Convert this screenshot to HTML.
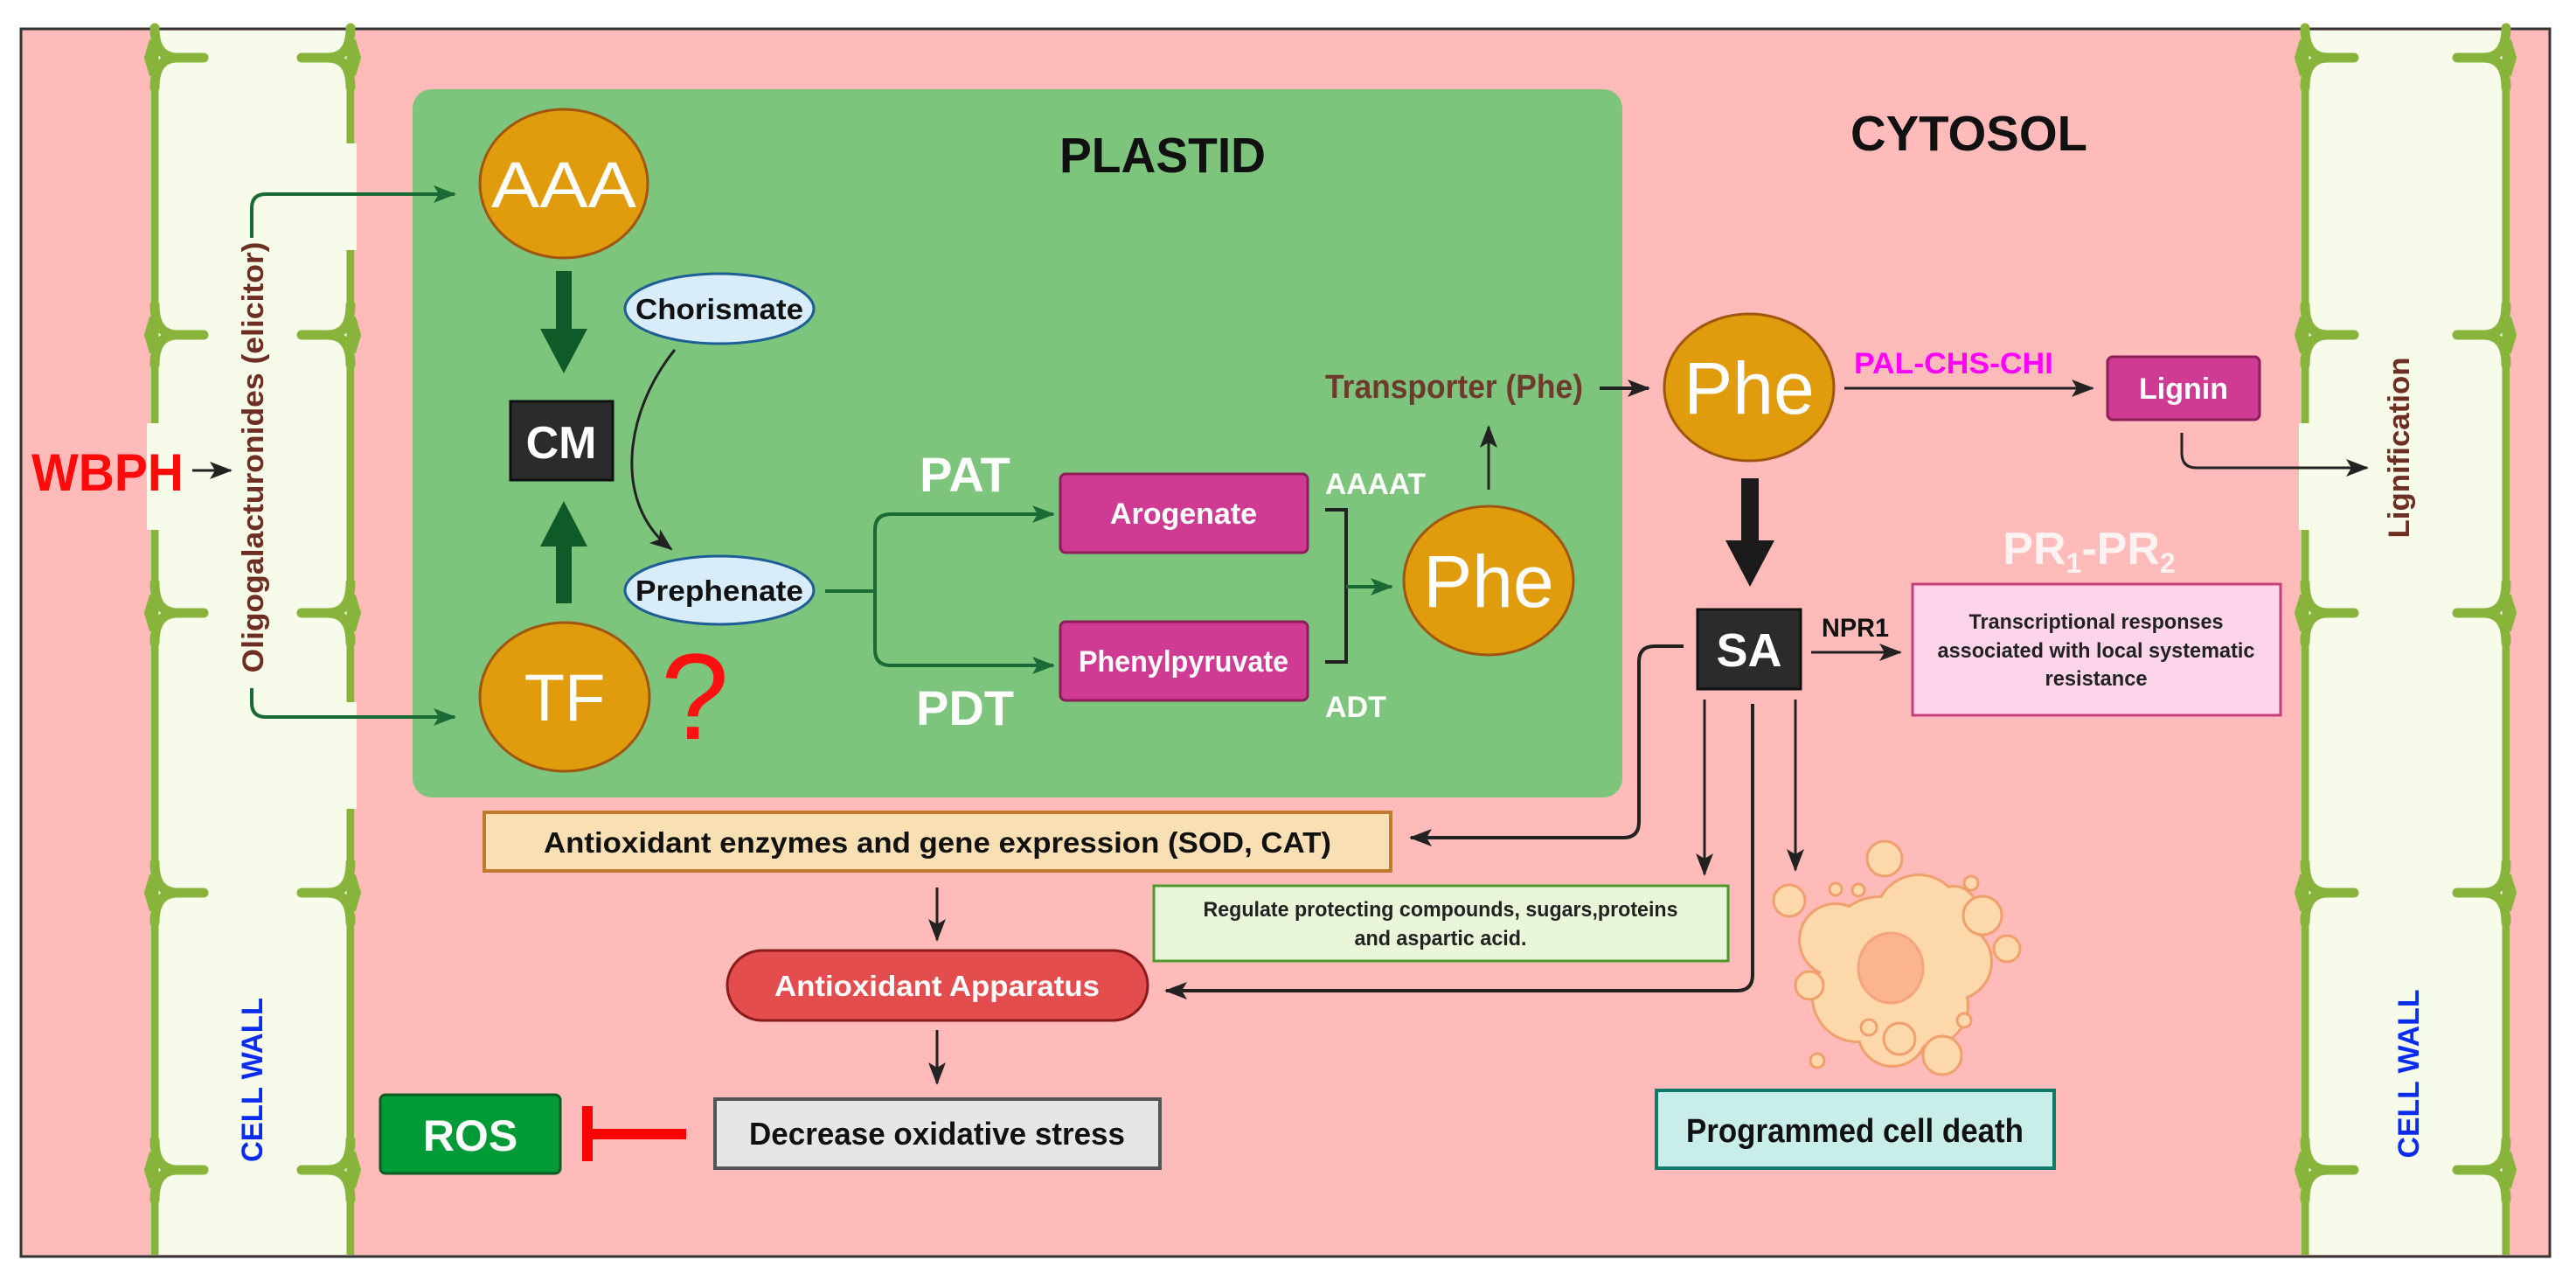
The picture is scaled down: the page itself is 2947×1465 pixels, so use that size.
<!DOCTYPE html>
<html><head><meta charset="utf-8"><style>
html,body{margin:0;padding:0;background:#fff;}
svg{display:block;font-family:"Liberation Sans",Arial,sans-serif;}
</style></head><body>
<svg width="2947" height="1465" viewBox="0 0 2947 1465" xmlns="http://www.w3.org/2000/svg">
<defs>
<marker id="ab" markerWidth="30" markerHeight="30" refX="24" refY="12" orient="auto" markerUnits="userSpaceOnUse"><path d="M0,2 L26,12 L0,22 L6,12 z" fill="#222"/></marker>
<marker id="ag" markerWidth="30" markerHeight="30" refX="24" refY="12" orient="auto" markerUnits="userSpaceOnUse"><path d="M0,2 L26,12 L0,22 L6,12 z" fill="#1a6a35"/></marker>
<g id="notch"><path d="M0,-34 Q0,0 26,0 L56,0 M0,34 Q0,0 26,0" fill="none" stroke="#89b43c" stroke-width="11" stroke-linecap="round"/><path d="M-2,-20 L-8,0 L-2,20" fill="none" stroke="#89b43c" stroke-width="8"/></g>
</defs>
<rect x="0" y="0" width="2947" height="1465" fill="#fff"/>
<rect x="24" y="33" width="2893" height="1404" fill="#ffbaba" stroke="#333" stroke-width="3"/>

<!-- left wall -->
<rect x="172" y="35" width="234" height="1400" fill="#f6fce9"/>
<line x1="177" y1="35" x2="177" y2="1435" stroke="#89b43c" stroke-width="9"/>
<line x1="401" y1="35" x2="401" y2="1435" stroke="#89b43c" stroke-width="9"/>
<g>
<use href="#notch" x="177" y="66"/><use href="#notch" x="177" y="383"/><use href="#notch" x="177" y="701"/><use href="#notch" x="177" y="1021"/><use href="#notch" x="177" y="1338"/>
<use href="#notch" transform="translate(401,66) scale(-1,1)"/><use href="#notch" transform="translate(401,383) scale(-1,1)"/><use href="#notch" transform="translate(401,701) scale(-1,1)"/><use href="#notch" transform="translate(401,1021) scale(-1,1)"/><use href="#notch" transform="translate(401,1338) scale(-1,1)"/>
</g>
<rect x="168" y="484" width="20" height="122" fill="#f6fce9"/>
<rect x="392" y="164" width="16" height="122" fill="#f6fce9"/>
<rect x="392" y="803" width="16" height="122" fill="#f6fce9"/>

<!-- right wall -->
<rect x="2632" y="35" width="240" height="1400" fill="#f6fce9"/>
<line x1="2637" y1="35" x2="2637" y2="1435" stroke="#89b43c" stroke-width="9"/>
<line x1="2867" y1="35" x2="2867" y2="1435" stroke="#89b43c" stroke-width="9"/>
<use href="#notch" x="2637" y="66"/><use href="#notch" x="2637" y="383"/><use href="#notch" x="2637" y="701"/><use href="#notch" x="2637" y="1021"/><use href="#notch" x="2637" y="1338"/>
<use href="#notch" transform="translate(2867,66) scale(-1,1)"/><use href="#notch" transform="translate(2867,383) scale(-1,1)"/><use href="#notch" transform="translate(2867,701) scale(-1,1)"/><use href="#notch" transform="translate(2867,1021) scale(-1,1)"/><use href="#notch" transform="translate(2867,1338) scale(-1,1)"/>
<rect x="2630" y="484" width="18" height="122" fill="#f6fce9"/>

<text x="0" y="0" transform="translate(300,1235) rotate(-90)" text-anchor="middle" font-size="34" font-weight="bold" fill="#0a2cf0" textLength="188" lengthAdjust="spacingAndGlyphs">CELL WALL</text>
<text x="0" y="0" transform="translate(2767,1228) rotate(-90)" text-anchor="middle" font-size="34" font-weight="bold" fill="#0a2cf0" textLength="193" lengthAdjust="spacingAndGlyphs">CELL WALL</text>
<text x="0" y="0" transform="translate(2756,512) rotate(-90)" text-anchor="middle" font-size="34" font-weight="bold" fill="#6e2e22" textLength="207" lengthAdjust="spacingAndGlyphs">Lignification</text>
<text x="0" y="0" transform="translate(301,523) rotate(-90)" text-anchor="middle" font-size="34" font-weight="bold" fill="#6e2e22" textLength="493" lengthAdjust="spacingAndGlyphs">Oligogalacturonides (elicitor)</text>

<!-- WBPH -->
<text x="36" y="561" font-size="60" font-weight="bold" fill="#ff0a0a" textLength="174" lengthAdjust="spacingAndGlyphs">WBPH</text>
<line x1="220" y1="538" x2="264" y2="538" stroke="#222" stroke-width="3" marker-end="url(#ab)"/>

<!-- plastid -->
<rect x="472" y="102" width="1384" height="810" rx="22" fill="#7dc47d"/>
<text x="1212" y="197" font-size="57" font-weight="bold" fill="#111" textLength="236" lengthAdjust="spacingAndGlyphs">PLASTID</text>

<!-- elicitor connectors -->
<path d="M288,272 L288,238 Q288,222 304,222 L520,222" fill="none" stroke="#1a6a35" stroke-width="4" marker-end="url(#ag)"/>
<path d="M288,787 L288,804 Q288,820 304,820 L520,820" fill="none" stroke="#1a6a35" stroke-width="4" marker-end="url(#ag)"/>

<!-- AAA -->
<ellipse cx="645" cy="210" rx="96" ry="85" fill="#e09c0d" stroke="#a0560f" stroke-width="3"/>
<text x="645" y="237" text-anchor="middle" font-size="74" fill="#fff" textLength="166" lengthAdjust="spacingAndGlyphs">AAA</text>
<path d="M636,310 L654,310 L654,376 L672,376 L645,427 L618,376 L636,376 z" fill="#0e5a28"/>
<path d="M636,690 L654,690 L654,625 L672,625 L645,573 L618,625 L636,625 z" fill="#0e5a28"/>
<rect x="584" y="459" width="117" height="90" fill="#2b2b2b" stroke="#111" stroke-width="3"/>
<text x="642" y="524" text-anchor="middle" font-size="52" font-weight="bold" fill="#fff">CM</text>
<ellipse cx="646" cy="797" rx="97" ry="85" fill="#e09c0d" stroke="#a0560f" stroke-width="3"/>
<text x="646" y="824" text-anchor="middle" font-size="76" fill="#fff">TF</text>
<text x="795" y="845" text-anchor="middle" font-size="140" fill="#ff1010">?</text>

<!-- chorismate / prephenate -->
<ellipse cx="823" cy="353" rx="108" ry="40" fill="#d8ecfa" stroke="#1d5e96" stroke-width="3"/>
<text x="823" y="365" text-anchor="middle" font-size="33" font-weight="bold" fill="#111" textLength="192" lengthAdjust="spacingAndGlyphs">Chorismate</text>
<ellipse cx="823" cy="675" rx="108" ry="39" fill="#d8ecfa" stroke="#1d5e96" stroke-width="3"/>
<text x="823" y="687" text-anchor="middle" font-size="33" font-weight="bold" fill="#111" textLength="192" lengthAdjust="spacingAndGlyphs">Prephenate</text>
<path d="M772,400 C715,470 700,575 768,628" fill="none" stroke="#222" stroke-width="3" marker-end="url(#ab)"/>

<!-- branch -->
<path d="M944,676 L1001,676" fill="none" stroke="#1a6a35" stroke-width="4"/>
<path d="M1001,676 L1001,606 Q1001,588 1019,588 L1205,588" fill="none" stroke="#1a6a35" stroke-width="4" marker-end="url(#ag)"/>
<path d="M1001,676 L1001,743 Q1001,761 1019,761 L1205,761" fill="none" stroke="#1a6a35" stroke-width="4" marker-end="url(#ag)"/>
<text x="1104" y="562" text-anchor="middle" font-size="56" font-weight="bold" fill="#fff">PAT</text>
<text x="1104" y="829" text-anchor="middle" font-size="56" font-weight="bold" fill="#fff">PDT</text>

<rect x="1213" y="542" width="283" height="90" rx="6" fill="#cf3a93" stroke="#8e1d5a" stroke-width="3"/>
<text x="1354" y="599" text-anchor="middle" font-size="34" font-weight="bold" fill="#fff">Arogenate</text>
<rect x="1213" y="711" width="283" height="90" rx="6" fill="#cf3a93" stroke="#8e1d5a" stroke-width="3"/>
<text x="1354" y="768" text-anchor="middle" font-size="34" font-weight="bold" fill="#fff" textLength="240" lengthAdjust="spacingAndGlyphs">Phenylpyruvate</text>

<text x="1516" y="565" font-size="34" font-weight="bold" fill="#fff" textLength="115" lengthAdjust="spacingAndGlyphs">AAAAT</text>
<text x="1516" y="820" font-size="34" font-weight="bold" fill="#fff">ADT</text>
<path d="M1516,583 L1540,583 L1540,757 L1516,757" fill="none" stroke="#222" stroke-width="4"/>
<line x1="1540" y1="671" x2="1592" y2="671" stroke="#1a6a35" stroke-width="4" marker-end="url(#ag)"/>

<ellipse cx="1703" cy="664" rx="97" ry="85" fill="#e09c0d" stroke="#a0560f" stroke-width="3"/>
<text x="1703" y="694" text-anchor="middle" font-size="84" fill="#fff">Phe</text>
<line x1="1703" y1="560" x2="1703" y2="488" stroke="#222" stroke-width="3" marker-end="url(#ab)"/>
<text x="1516" y="455" font-size="38" font-weight="bold" fill="#6e3a2e" textLength="295" lengthAdjust="spacingAndGlyphs">Transporter (Phe)</text>
<line x1="1830" y1="444" x2="1886" y2="444" stroke="#222" stroke-width="4" marker-end="url(#ab)"/>

<text x="2117" y="172" font-size="57" font-weight="bold" fill="#111" textLength="271" lengthAdjust="spacingAndGlyphs">CYTOSOL</text>

<ellipse cx="2001" cy="443" rx="97" ry="84" fill="#e09c0d" stroke="#a0560f" stroke-width="3"/>
<text x="2001" y="473" text-anchor="middle" font-size="84" fill="#fff">Phe</text>
<text x="2121" y="427" font-size="34" font-weight="bold" fill="#ff00ff" textLength="228" lengthAdjust="spacingAndGlyphs">PAL-CHS-CHI</text>
<line x1="2110" y1="444" x2="2394" y2="444" stroke="#222" stroke-width="3" marker-end="url(#ab)"/>
<rect x="2411" y="408" width="174" height="72" rx="6" fill="#cf3a93" stroke="#8e1d5a" stroke-width="3"/>
<text x="2498" y="456" text-anchor="middle" font-size="34" font-weight="bold" fill="#fff">Lignin</text>
<path d="M2496,495 L2496,518 Q2496,535 2513,535 L2708,535" fill="none" stroke="#222" stroke-width="3" marker-end="url(#ab)"/>

<path d="M1992,547 L2012,547 L2012,618 L2030,618 L2002,671 L1974,618 L1992,618 z" fill="#1a1a1a"/>

<text x="2390" y="645" text-anchor="middle" font-size="52" font-weight="bold" fill="#fff2f2">PR<tspan font-size="32" dy="10">1</tspan><tspan dy="-10">-PR</tspan><tspan font-size="32" dy="10">2</tspan></text>

<rect x="1942" y="697" width="118" height="91" fill="#2b2b2b" stroke="#111" stroke-width="3"/>
<text x="2001" y="762" text-anchor="middle" font-size="54" font-weight="bold" fill="#fff">SA</text>
<text x="2084" y="728" font-size="30" font-weight="bold" fill="#111" textLength="77" lengthAdjust="spacingAndGlyphs">NPR1</text>
<line x1="2072" y1="746" x2="2174" y2="746" stroke="#222" stroke-width="3" marker-end="url(#ab)"/>
<rect x="2188" y="668" width="421" height="150" fill="#fdd5ea" stroke="#c4407a" stroke-width="3"/>
<text x="2398" y="719" text-anchor="middle" font-size="24" font-weight="bold" fill="#222" textLength="291" lengthAdjust="spacingAndGlyphs">Transcriptional responses</text>
<text x="2398" y="752" text-anchor="middle" font-size="24" font-weight="bold" fill="#222" textLength="363" lengthAdjust="spacingAndGlyphs">associated with local systematic</text>
<text x="2398" y="784" text-anchor="middle" font-size="24" font-weight="bold" fill="#222" textLength="117" lengthAdjust="spacingAndGlyphs">resistance</text>

<path d="M1926,739 L1893,739 Q1875,739 1875,757 L1875,940 Q1875,958 1857,958 L1614,958" fill="none" stroke="#222" stroke-width="4" marker-end="url(#ab)"/>
<line x1="1950" y1="800" x2="1950" y2="1000" stroke="#222" stroke-width="3" marker-end="url(#ab)"/>
<line x1="2054" y1="800" x2="2054" y2="995" stroke="#222" stroke-width="3" marker-end="url(#ab)"/>
<path d="M2005,805 L2005,1115 Q2005,1133 1987,1133 L1334,1133" fill="none" stroke="#222" stroke-width="4" marker-end="url(#ab)"/>

<rect x="554" y="929" width="1037" height="67" fill="#f8e0b4" stroke="#c07a2e" stroke-width="4"/>
<text x="622" y="975" font-size="33" font-weight="bold" fill="#111" textLength="901" lengthAdjust="spacingAndGlyphs">Antioxidant enzymes and gene expression (SOD, CAT)</text>
<line x1="1072" y1="1015" x2="1072" y2="1075" stroke="#222" stroke-width="3" marker-end="url(#ab)"/>

<rect x="1320" y="1013" width="657" height="86" fill="#eaf6da" stroke="#4f9a2f" stroke-width="3"/>
<text x="1648" y="1048" text-anchor="middle" font-size="24" font-weight="bold" fill="#222" textLength="543" lengthAdjust="spacingAndGlyphs">Regulate protecting compounds, sugars,proteins</text>
<text x="1648" y="1081" text-anchor="middle" font-size="24" font-weight="bold" fill="#222" textLength="197" lengthAdjust="spacingAndGlyphs">and aspartic acid.</text>

<rect x="832" y="1087" width="481" height="80" rx="40" fill="#e44d4d" stroke="#8b1a1a" stroke-width="3"/>
<text x="1072" y="1139" text-anchor="middle" font-size="33" font-weight="bold" fill="#fff" textLength="372" lengthAdjust="spacingAndGlyphs">Antioxidant Apparatus</text>
<line x1="1072" y1="1178" x2="1072" y2="1239" stroke="#222" stroke-width="3" marker-end="url(#ab)"/>

<rect x="818" y="1257" width="509" height="79" fill="#e6e6e6" stroke="#555" stroke-width="4"/>
<text x="1072" y="1309" text-anchor="middle" font-size="36" font-weight="bold" fill="#111" textLength="430" lengthAdjust="spacingAndGlyphs">Decrease oxidative stress</text>

<rect x="435" y="1252" width="206" height="90" rx="6" fill="#009a36" stroke="#0b5e21" stroke-width="3"/>
<text x="538" y="1316" text-anchor="middle" font-size="50" font-weight="bold" fill="#fff">ROS</text>
<rect x="666" y="1265" width="12" height="63" fill="#ff0000"/>
<rect x="666" y="1291" width="119" height="12" fill="#ff0000"/>

<g stroke="#f0a06c" stroke-width="6" fill="#f0a06c">
<circle cx="2150" cy="1085" r="58"/><circle cx="2195" cy="1050" r="48"/><circle cx="2125" cy="1140" r="50"/><circle cx="2205" cy="1150" r="45"/><circle cx="2165" cy="1180" r="38"/><circle cx="2100" cy="1075" r="40"/><circle cx="2235" cy="1100" r="42"/><circle cx="2235" cy="1040" r="25"/>
</g>
<g fill="#fdd8aa">
<circle cx="2150" cy="1085" r="58"/><circle cx="2195" cy="1050" r="48"/><circle cx="2125" cy="1140" r="50"/><circle cx="2205" cy="1150" r="45"/><circle cx="2165" cy="1180" r="38"/><circle cx="2100" cy="1075" r="40"/><circle cx="2235" cy="1100" r="42"/><circle cx="2235" cy="1040" r="25"/>
</g>
<g fill="#fdd8aa" stroke="#f0a06c" stroke-width="3">
<circle cx="2156" cy="982" r="20"/><circle cx="2047" cy="1030" r="18"/><circle cx="2100" cy="1017" r="7"/><circle cx="2126" cy="1018" r="7"/><circle cx="2255" cy="1010" r="8"/><circle cx="2268" cy="1047" r="22"/><circle cx="2296" cy="1085" r="15"/><circle cx="2070" cy="1127" r="16"/><circle cx="2138" cy="1175" r="9"/><circle cx="2173" cy="1188" r="18"/><circle cx="2222" cy="1207" r="22"/><circle cx="2079" cy="1213" r="8"/><circle cx="2247" cy="1167" r="8"/>
</g>
<ellipse cx="2163" cy="1107" rx="37" ry="40" fill="#fbb48e" stroke="#f5a47c" stroke-width="3"/>

<rect x="1895" y="1247" width="455" height="89" fill="#c9ede9" stroke="#0e7a6a" stroke-width="4"/>
<text x="2122" y="1306" text-anchor="middle" font-size="38" font-weight="bold" fill="#111" textLength="386" lengthAdjust="spacingAndGlyphs">Programmed cell death</text>
</svg>
</body></html>
